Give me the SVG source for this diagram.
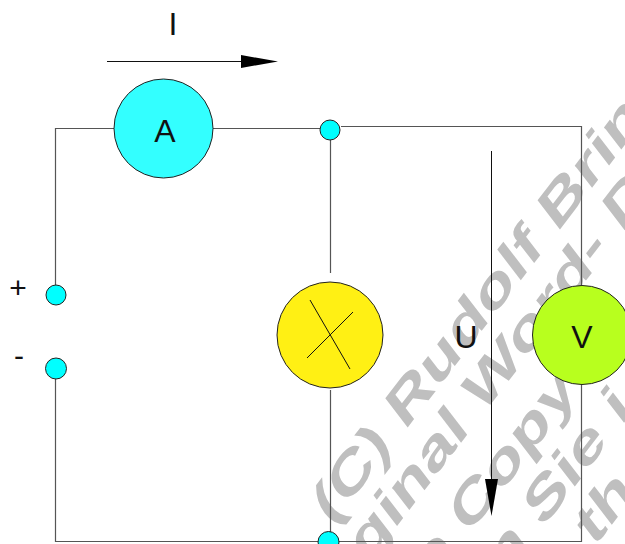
<svg xmlns="http://www.w3.org/2000/svg" width="625" height="544" viewBox="0 0 625 544">
<style>
.w{fill:none;stroke:#555;stroke-width:1.2}
.n{stroke:#222;stroke-width:1}
.t{font-family:"Liberation Sans",Arial,sans-serif;font-size:32px;fill:#111;text-anchor:middle}
.m{font-family:"Liberation Sans",Arial,sans-serif;font-weight:bold;font-size:46px;fill:#bfbfbf}
.a{fill:none;stroke:#111;stroke-width:1}
</style>
<rect width="625" height="544" fill="#fff"/>
<g id="watermark">
<text class="m" transform="translate(331,527) scale(1,1.3) rotate(-45) scale(1.36,1)">(C) Rudolf Brin</text>
<text class="m" transform="translate(367,565) scale(1,1.3) rotate(-45) scale(1.36,1)">ginal Word- D</text>
<text class="m" transform="translate(431,584) scale(1,1.3) rotate(-45) scale(1.36,1)">e Copy-</text>
<text class="m" transform="translate(503,580) scale(1,1.3) rotate(-45) scale(1.36,1)">n Sie i</text>
<text class="m" transform="translate(594,548) scale(1,1.3) rotate(-45) scale(1.36,1)">th</text>
</g>
<g id="connectors">
<path class="w" d="M55.500 285V128.500H114M213 128.500H320M341 126.500H581.500V285"/>
<path class="w" d="M330.500 140V273M330.500 390V534"/>
<path class="w" d="M55.500 379V541.500H581.500V384"/>
<path class="a" d="M107 61.500H245"/>
<polygon points="241,55 278,61.500 241,68" fill="#000"/>
<path class="a" d="M491.500 151V485"/>
<polygon points="485,479 498,479 491.500,516" fill="#000"/>
</g>
<g id="ammeter"><circle class="n" cx="163.500" cy="128.500" r="49.500" fill="#3ff"/><text class="t" x="165" y="142">A</text></g>
<g id="junction-top"><circle class="n" cx="330" cy="130" r="10" fill="#0ff"/></g>
<g id="junction-bottom"><circle class="n" cx="328.500" cy="542" r="10.500" fill="#0ff"/></g>
<g id="terminal-plus"><circle class="n" cx="56" cy="295" r="10" fill="#0ff"/><text class="t" x="18" y="298" style="font-size:30px">+</text></g>
<g id="terminal-minus"><circle class="n" cx="56" cy="368.500" r="10.500" fill="#0ff"/><text class="t" x="19" y="366" style="font-size:30px">-</text></g>
<g id="lamp"><circle class="n" cx="330" cy="335" r="53" fill="#fff014"/><path class="a" d="M310 300L350 369M353 312L307 358"/></g>
<g id="voltmeter"><circle class="n" cx="582" cy="335" r="49.500" fill="#b8ff1e"/><text class="t" x="582" y="348">V</text></g>
<g id="label-I"><text class="t" x="173" y="35">I</text></g>
<g id="label-U"><text class="t" x="466" y="348">U</text></g>
</svg>
